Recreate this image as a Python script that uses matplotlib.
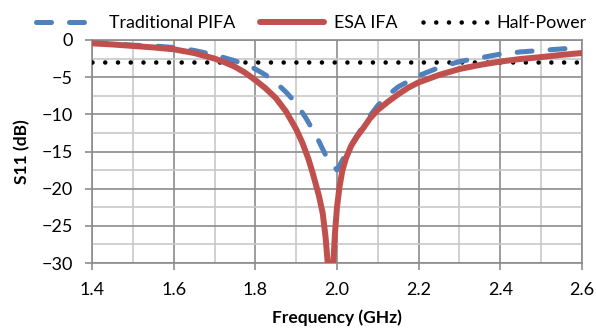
import matplotlib
matplotlib.use('Agg')
import matplotlib.pyplot as plt
from matplotlib.ticker import MultipleLocator, FormatStrFormatter

plt.rcParams['font.family'] = ['Lato', 'DejaVu Sans']

# Traditional PIFA (dashed blue)
f_pifa = [1.40, 1.45, 1.50, 1.55, 1.60, 1.65, 1.70, 1.75, 1.775, 1.80, 1.825, 1.85, 1.875,
          1.90, 1.925, 1.95, 1.975, 2.00, 2.025, 2.05, 2.075, 2.10, 2.125, 2.15, 2.20,
          2.25, 2.30, 2.35, 2.40, 2.45, 2.50, 2.55, 2.60]
s_pifa = [-0.4, -0.5, -0.7, -0.8, -1.0, -1.4, -2.0, -2.8, -3.3, -3.9, -4.7, -5.7, -7.0,
          -8.5, -10.6, -13.0, -15.8, -17.5, -15.0, -12.8, -10.6, -8.8, -7.4, -6.3, -4.8,
          -3.7, -2.9, -2.4, -1.9, -1.6, -1.4, -1.2, -1.0]

# ESA IFA (solid red)
f_esa = [1.40, 1.45, 1.50, 1.55, 1.60, 1.65, 1.70, 1.725, 1.75, 1.775, 1.80, 1.825, 1.85,
         1.875, 1.90, 1.915, 1.93, 1.94, 1.955, 1.965, 1.972, 1.978, 1.985, 1.990, 1.995,
         2.000, 2.006, 2.013, 2.022, 2.035, 2.05, 2.065, 2.08, 2.10, 2.125, 2.15, 2.175,
         2.20, 2.25, 2.30, 2.35, 2.40, 2.45, 2.50, 2.55, 2.60]
s_esa = [-0.45, -0.6, -0.8, -1.0, -1.25, -1.75, -2.5, -3.0, -3.6, -4.4, -5.4, -6.5, -7.8,
         -9.6, -12.0, -13.8, -16.0, -17.8, -20.8, -23.3, -26.5, -30.5, -36.0, -31.0, -26.0,
         -22.5, -19.8, -17.6, -15.9, -14.2, -12.9, -11.8, -10.6, -9.4, -8.3, -7.3, -6.4,
         -5.7, -4.7, -3.9, -3.35, -2.9, -2.55, -2.3, -2.0, -1.75]

# Half-power reference
f_half = [1.40, 2.60]
s_half = [-3, -3]

blue = '#4F81BD'
red = '#C0504D'
dark_grid = '#8C8C8C'
light_grid = '#C8C8C8'

fig = plt.figure(figsize=(5.96, 3.30), dpi=100)
ax = fig.add_axes([92 / 596, 1 - 263 / 330, 490 / 596, 223 / 330])

ax.plot(f_half, s_half, color='black', lw=3.3, linestyle=(0, (0.001, 2.78)),
        dash_capstyle='round', label='Half-Power', zorder=3)
ax.plot(f_pifa, s_pifa, color=blue, lw=3.6, linestyle=(0, (3.0, 3.6)),
        dash_capstyle='round', solid_joinstyle='round', label='Traditional PIFA', zorder=4)
ax.plot(f_esa, s_esa, color=red, lw=4.3, solid_capstyle='round', solid_joinstyle='round',
        label='ESA IFA', zorder=5)

ax.xaxis.set_major_locator(MultipleLocator(0.2))
ax.xaxis.set_minor_locator(MultipleLocator(0.1))
ax.xaxis.set_major_formatter(FormatStrFormatter('%.1f'))
ax.yaxis.set_major_locator(MultipleLocator(5))
ax.yaxis.set_minor_locator(MultipleLocator(2.5))
ax.set_xlim(1.4, 2.6)
ax.set_ylim(-30, 0)

ax.grid(True, which='major', color=dark_grid, lw=1.2)
ax.grid(True, which='minor', color=light_grid, lw=1.2)
ax.set_axisbelow(True)
ax.tick_params(which='major', direction='out', length=5, width=1.2, color=dark_grid,
               labelsize=13, pad=9)
ax.tick_params(which='minor', length=0)
for s in ax.spines.values():
    s.set_color(dark_grid)
    s.set_linewidth(1.2)

ax.set_xlabel('Frequency (GHz)', fontsize=12.5, fontweight='bold', labelpad=8)
ax.set_ylabel('S11 (dB)', fontsize=12.5, fontweight='bold', labelpad=8)

h, l = ax.get_legend_handles_labels()
order = [1, 2, 0]
ax.legend([h[i] for i in order], [l[i] for i in order], loc='lower center',
          bbox_to_anchor=(0.447, 1.0), ncol=3, frameon=False, fontsize=12.8,
          handlelength=3.6, handletextpad=0.55, columnspacing=1.4, borderaxespad=0.1)

fig.savefig('out.png', dpi=100)
